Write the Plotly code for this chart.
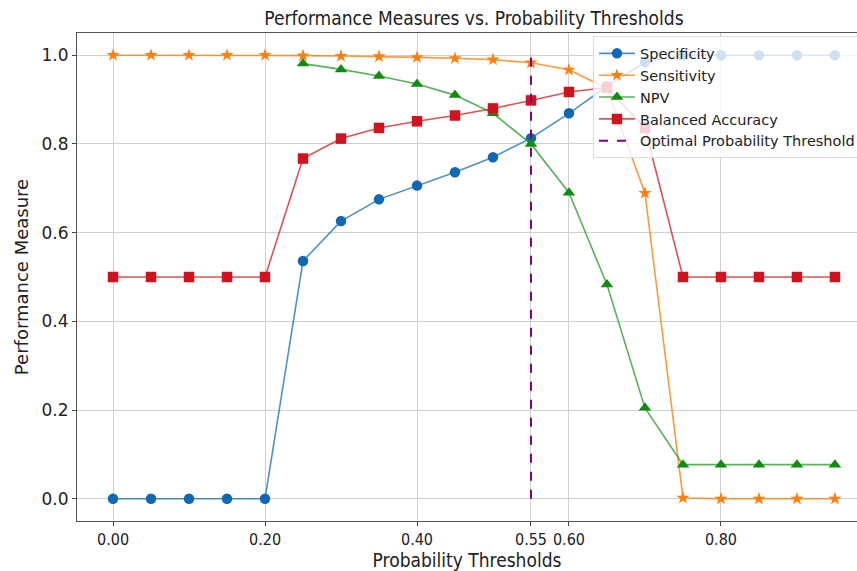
import plotly.graph_objects as go

thresholds = [0.00, 0.05, 0.10, 0.15, 0.20, 0.25, 0.30, 0.35, 0.40, 0.45,
              0.50, 0.55, 0.60, 0.65, 0.70, 0.75, 0.80, 0.85, 0.90, 0.95]
specificity = [0, 0, 0, 0, 0, 0.536, 0.626, 0.675, 0.706, 0.736,
               0.770, 0.813, 0.869, 0.930, 0.984, 1.0, 1.0, 1.0, 1.0, 1.0]
sensitivity = [1.0, 1.0, 1.0, 1.0, 1.0, 0.999, 0.998, 0.997, 0.995, 0.993,
               0.990, 0.983, 0.967, 0.925, 0.689, 0.002, 0.0, 0.0, 0.0, 0.0]
npv = [None, None, None, None, None, 0.981, 0.968, 0.953, 0.935, 0.910,
       0.869, 0.800, 0.690, 0.483, 0.205, 0.077, 0.077, 0.077, 0.077, 0.077]
balanced = [0.5, 0.5, 0.5, 0.5, 0.5, 0.767, 0.812, 0.836, 0.851, 0.864,
            0.880, 0.898, 0.917, 0.927, 0.836, 0.5, 0.5, 0.5, 0.5, 0.5]
optimal_threshold = 0.55
x_tickvals = [0.0, 0.2, 0.4, 0.55, 0.6, 0.8]
x_ticktext = ["0.00", "0.20", "0.40", "0.55", "0.60", "0.80"]
y_tickvals = [0.0, 0.2, 0.4, 0.6, 0.8, 1.0]
y_ticktext = ["0.0", "0.2", "0.4", "0.6", "0.8", "1.0"]

FONT = "DejaVu Sans"
COND = "DejaVu Sans Condensed, DejaVu Sans"

fig = go.Figure()
fig.add_trace(go.Scatter(x=thresholds, y=specificity, mode="lines+markers", name="Specificity",
                         line=dict(color="rgba(31,119,180,0.8)", width=1.6),
                         marker=dict(symbol="circle", size=10.5, color="#1068b4")))
fig.add_trace(go.Scatter(x=thresholds, y=sensitivity, mode="lines+markers", name="Sensitivity",
                         line=dict(color="rgba(255,127,14,0.8)", width=1.6),
                         marker=dict(symbol="star", size=10, color="#ff7f0e")))
fig.add_trace(go.Scatter(x=thresholds, y=npv, mode="lines+markers", name="NPV",
                         line=dict(color="rgba(44,160,44,0.8)", width=1.6),
                         marker=dict(symbol="triangle-up", size=11, color="#118c11")))
fig.add_trace(go.Scatter(x=thresholds, y=balanced, mode="lines+markers", name="Balanced Accuracy",
                         line=dict(color="rgba(214,39,40,0.8)", width=1.6),
                         marker=dict(symbol="square", size=10.5, color="#d0141f")))
fig.add_trace(go.Scatter(x=[optimal_threshold, optimal_threshold], y=[0, 1], mode="lines",
                         name="Optimal Probability Threshold",
                         line=dict(color="#800080", width=2, dash="dash")))

fig.update_layout(
    width=857, height=571,
    margin=dict(l=77, r=0, t=33, b=50, autoexpand=False),
    paper_bgcolor="white", plot_bgcolor="white",
    font=dict(family=FONT, color="#222222"),
    title=dict(text="Performance Measures vs. Probability Thresholds",
               font=dict(family=COND, size=19, color="#222222"),
               x=0.553, xanchor="center", y=0.968, yanchor="middle"),
    legend=dict(x=0.6615, xanchor="left", y=0.993, yanchor="top",
                bgcolor="rgba(255,255,255,0.8)", bordercolor="#dddddd", borderwidth=1,
                font=dict(family=FONT, size=14.5, color="#222222"),
                tracegroupgap=0, itemwidth=36),
    showlegend=True,
)
fig.update_xaxes(range=[-0.0474, 0.979], tickmode="array", tickvals=x_tickvals, ticktext=x_ticktext,
                 tickfont=dict(family=COND, size=16), ticks="outside", ticklen=4, tickcolor="#444",
                 showgrid=True, gridcolor="#d0d0d0", gridwidth=1, zeroline=False,
                 showline=True, mirror=True, linecolor="#555555", linewidth=1,
                 title=dict(text="Probability Thresholds", font=dict(family=COND, size=19), standoff=1))
fig.update_yaxes(range=[-0.05, 1.05], tickmode="array", tickvals=y_tickvals, ticktext=y_ticktext,
                 tickfont=dict(family=FONT, size=17), ticks="outside", ticklen=4, tickcolor="#444",
                 showgrid=True, gridcolor="#d0d0d0", gridwidth=1, zeroline=False,
                 showline=True, mirror=True, linecolor="#555555", linewidth=1,
                 title=dict(text="Performance Measure", font=dict(family=FONT, size=18), standoff=8))

fig.write_html("out.html")
